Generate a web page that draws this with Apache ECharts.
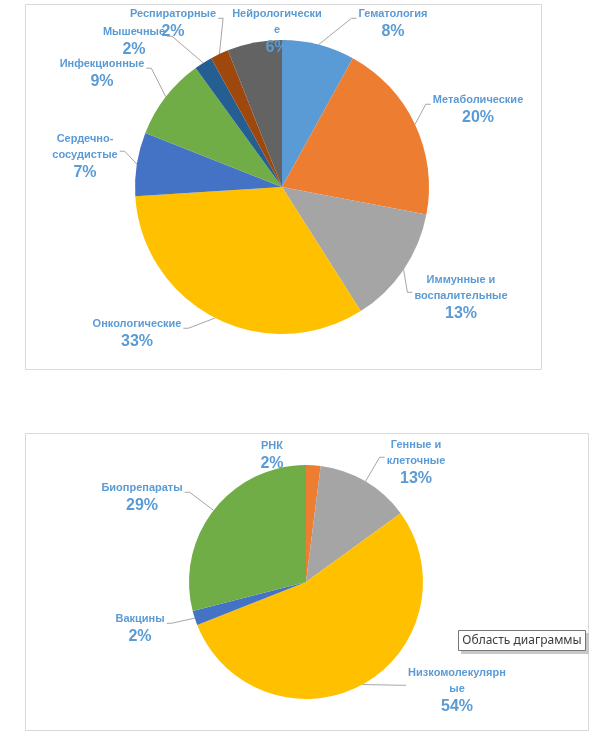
<!DOCTYPE html>
<html>
<head>
<meta charset="utf-8">
<script src="https://cdn.jsdelivr.net/npm/echarts@6/dist/echarts.min.js"></script>
<style>
  html, body { margin: 0; padding: 0; background: #fff; }
  #chart { width: 607px; height: 750px; }
</style>
</head>
<body>
<div id="chart"></div>
<script>
// therapeutic areas (top pie), clockwise from 12 o'clock
const areaNames = ['Гематология', 'Метаболические', 'Иммунные и\nвоспалительные', 'Онкологические',
  'Сердечно-\nсосудистые', 'Инфекционные', 'Мышечные', 'Респираторные', 'Нейрологически\nе'];
const areaValues = [8, 20, 13, 33, 7, 9, 2, 2, 6];
const areaColors = ['#5B9BD5', '#ED7D31', '#A5A5A5', '#FFC000', '#4472C4', '#70AD47', '#255E91', '#9E480E', '#636363'];

// drug modalities (bottom pie)
const typeNames = ['РНК', 'Генные и\nклеточные', 'Низкомолекулярн\nые', 'Вакцины', 'Биопрепараты'];
const typeValues = [2, 13, 54, 2, 29];
const typeColors = ['#ED7D31', '#A5A5A5', '#FFC000', '#4472C4', '#70AD47'];

// where Excel put the label blocks (centre of each block, px)
const areaLabelAt = [[393, 24], [478, 110], [461, 298], [137, 334], [85, 157], [102, 74], [134, 42], [173, 24], [277, 32]];
const typeLabelAt = [[272, 456], [416, 463], [457, 691], [140, 629], [142, 498]];
// labels Excel drew without a leader line
const noLeader = ['Нейрологически\nе', 'РНК'];

const txtColor = '#5B9BD5';
const font = '"Liberation Sans", Arial, sans-serif';

function toData(names, values, colors) {
  return names.map((n, i) => ({ name: n, value: values[i], itemStyle: { color: colors[i] } }));
}

// angle (rad, clockwise from 12 o'clock) of the middle of slice i
function midAngle(values, i) {
  const total = values.reduce((a, b) => a + b, 0);
  let before = 0;
  for (let k = 0; k < i; k++) before += values[k];
  return (before + values[i] / 2) / total * Math.PI * 2;
}

function pieSeries(names, values, colors, center, radius, labelAt) {
  return {
    type: 'pie',
    center: center,
    radius: radius,
    startAngle: 90,
    clockwise: true,
    avoidLabelOverlap: false,
    silent: true,
    itemStyle: { borderWidth: 0 },
    label: {
      show: true,
      position: 'outside',
      formatter: p => '{n|' + p.name + '}\n{p|' + Math.round(p.percent) + '%}',
      rich: {
        n: { fontFamily: font, fontSize: 11, fontWeight: 'bold', color: txtColor, lineHeight: 16, align: 'center' },
        p: { fontFamily: font, fontSize: 16, fontWeight: 'bold', color: txtColor, lineHeight: 20, align: 'center' }
      }
    },
    labelLine: { show: true, lineStyle: { color: '#A6A6A6', width: 1 } },
    labelLayout: p => {
      const i = p.dataIndex;
      const [lx, ly] = labelAt[i];
      const w = p.labelRect.width, h = p.labelRect.height;
      const a = midAngle(values, i);
      const sx = center[0] + radius * Math.sin(a);
      const sy = center[1] - radius * Math.cos(a);
      const left = lx - w / 2, right = lx + w / 2, top = ly - h / 2;
      let pts;
      if (noLeader.includes(names[i])) {
        pts = [[sx, sy], [sx, sy], [sx, sy]];
      } else {
        const nameLines = h > 40 ? 2 : 1;
        const ey = top + nameLines * 8 + 2;
        const onRight = lx > sx;
        const ex = onRight ? left - 2 : right + 2;
        const bx = onRight ? ex - 5 : ex + 5;
        pts = [[sx, sy], [bx, ey], [ex, ey]];
      }
      return { x: lx, y: ly, align: 'center', verticalAlign: 'middle', labelLinePoints: pts };
    },
    data: toData(names, values, colors)
  };
}

const chart = echarts.init(document.getElementById('chart'));
chart.setOption({
  animation: false,
  backgroundColor: '#fff',
  graphic: [
    { type: 'rect', shape: { x: 25.5, y: 4.5, width: 516, height: 365 }, style: { fill: 'none', stroke: '#D9D9D9', lineWidth: 1 }, z: -1 },
    { type: 'rect', shape: { x: 25.5, y: 433.5, width: 563, height: 297 }, style: { fill: 'none', stroke: '#D9D9D9', lineWidth: 1 }, z: -1 },
    {
      type: 'group', z: 100,
      children: [
        { type: 'rect', shape: { x: 461, y: 633, width: 128, height: 21 }, style: { fill: '#C8C8C8' } },
        { type: 'rect', shape: { x: 458.5, y: 630.5, width: 127, height: 20 }, style: { fill: '#fff', stroke: '#767676', lineWidth: 1 } },
        { type: 'text', style: { x: 522, y: 641, text: 'Область диаграммы', fill: '#3C3C3C',
          font: '12px "Noto Sans", sans-serif', align: 'center', verticalAlign: 'middle' } }
      ]
    }
  ],
  series: [
    pieSeries(areaNames, areaValues, areaColors, [282, 187], 147, areaLabelAt),
    pieSeries(typeNames, typeValues, typeColors, [306, 582], 117, typeLabelAt)
  ]
});
</script>
</body>
</html>
